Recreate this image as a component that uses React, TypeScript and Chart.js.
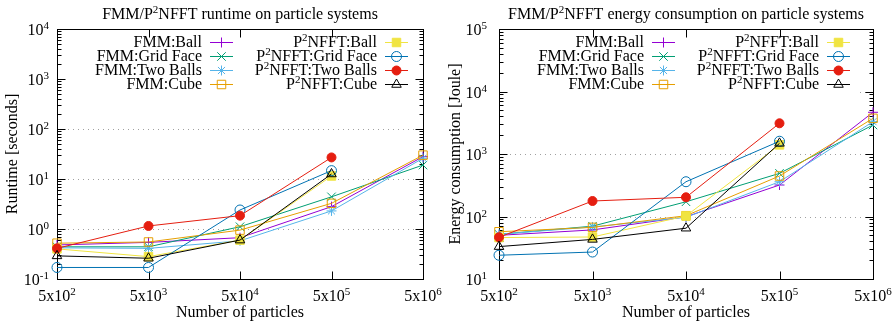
import React, { useEffect, useRef } from 'react';
import { Chart, registerables } from 'chart.js';

Chart.register(...registerables);

// ---------------- data ----------------
const particles = [500, 5000, 50000, 500000, 5000000];
const xTickLabels = ['5x10^{2}', '5x10^{3}', '5x10^{4}', '5x10^{5}', '5x10^{6}'];

const runtimeYTickValues = [0.1, 1, 10, 100, 1000, 10000];
const runtimeYTickLabels = ['10^{-1}', '10^{0}', '10^{1}', '10^{2}', '10^{3}', '10^{4}'];
const energyYTickValues = [10, 100, 1000, 10000, 100000];
const energyYTickLabels = ['10^{1}', '10^{2}', '10^{3}', '10^{4}', '10^{5}'];

const seriesNames = [
  'FMM:Ball',
  'FMM:Grid Face',
  'FMM:Two Balls',
  'FMM:Cube',
  'P^{2}NFFT:Ball',
  'P^{2}NFFT:Grid Face',
  'P^{2}NFFT:Two Balls',
  'P^{2}NFFT:Cube',
];

// runtime [seconds]
const runtimeFmmBall = [0.48, 0.54, 0.67, 2.8, 28];
const runtimeFmmGridFace = [0.44, 0.44, 1.11, 4.4, 19];
const runtimeFmmTwoBalls = [0.42, 0.41, 0.58, 2.3, 26];
const runtimeFmmCube = [0.52, 0.55, 0.95, 3.26, 30];
const runtimeP2nfftBall = [0.4, 0.28, 0.6, 11.5, null];
const runtimeP2nfftGridFace = [0.17, 0.17, 2.4, 14.7, null];
const runtimeP2nfftTwoBalls = [0.41, 1.15, 1.85, 27, null];
const runtimeP2nfftCube = [0.29, 0.26, 0.6, 12.6, null];

// energy consumption [Joule]
const energyFmmBall = [50, 61, 99, 319, 4650];
const energyFmmGridFace = [52, 70, 172, 490, 2910];
const energyFmmTwoBalls = [52, 68, 97, 360, 3290];
const energyFmmCube = [57, 67, 103, 445, 3720];
const energyP2nfftBall = [46, 47, 102, 1400, null];
const energyP2nfftGridFace = [24, 27, 360, 1600, null];
const energyP2nfftTwoBalls = [46.5, 177, 203, 3100, null];
const energyP2nfftCube = [33, 43, 65, 1480, null];

const runtimeSeries = [
  runtimeFmmBall, runtimeFmmGridFace, runtimeFmmTwoBalls, runtimeFmmCube,
  runtimeP2nfftBall, runtimeP2nfftGridFace, runtimeP2nfftTwoBalls, runtimeP2nfftCube,
];
const energySeries = [
  energyFmmBall, energyFmmGridFace, energyFmmTwoBalls, energyFmmCube,
  energyP2nfftBall, energyP2nfftGridFace, energyP2nfftTwoBalls, energyP2nfftCube,
];

// ---------------- styles ----------------
const seriesColors = ['#9400D3', '#009E73', '#56B4E9', '#E69F00', '#F0E442', '#0072B2', '#E51E10', '#000000'];
const seriesMarkers = ['cross', 'crossRot', 'star', 'rect', 'rect', 'circle', 'circle', 'triangle'];
const seriesFilled = [false, false, false, false, true, false, true, false];
const seriesRadius = [5, 6, 5, 6, 6, 5, 4.5, 5.5];

const FONT_FAMILY = '"Liberation Serif", "Times New Roman", Times, serif';
const BASE_SIZE = 16;
const SUP_SIZE = 11;
const SUP_RISE = 6;

type Part = { t: string; sup: boolean };
function parseRich(s: string): Part[] {
  const parts: Part[] = [];
  const re = /\^\{([^}]*)\}/g;
  let last = 0;
  let m: RegExpExecArray | null;
  while ((m = re.exec(s))) {
    if (m.index > last) parts.push({ t: s.slice(last, m.index), sup: false });
    parts.push({ t: m[1], sup: true });
    last = re.lastIndex;
  }
  if (last < s.length) parts.push({ t: s.slice(last), sup: false });
  return parts;
}
function setFont(ctx: CanvasRenderingContext2D, sup: boolean) {
  ctx.font = `${sup ? SUP_SIZE : BASE_SIZE}px ${FONT_FAMILY}`;
}
function richWidth(ctx: CanvasRenderingContext2D, s: string) {
  let w = 0;
  for (const p of parseRich(s)) {
    setFont(ctx, p.sup);
    w += ctx.measureText(p.t).width;
  }
  return w;
}
function drawRich(ctx: CanvasRenderingContext2D, s: string, x: number, y: number, align: 'left' | 'center' | 'right') {
  const w = richWidth(ctx, s);
  let cx = align === 'left' ? x : align === 'right' ? x - w : x - w / 2;
  ctx.textAlign = 'left';
  ctx.textBaseline = 'alphabetic';
  ctx.fillStyle = '#000';
  for (const p of parseRich(s)) {
    setFont(ctx, p.sup);
    ctx.fillText(p.t, cx, p.sup ? y - SUP_RISE : y);
    cx += ctx.measureText(p.t).width;
  }
}

function drawMarker(ctx: CanvasRenderingContext2D, style: string, x: number, y: number, r: number, color: string, filled: boolean) {
  ctx.save();
  ctx.strokeStyle = color;
  ctx.fillStyle = color;
  ctx.lineWidth = 1;
  ctx.beginPath();
  if (style === 'cross' || style === 'star') {
    ctx.moveTo(x - r, y); ctx.lineTo(x + r, y);
    ctx.moveTo(x, y - r); ctx.lineTo(x, y + r);
  }
  if (style === 'crossRot' || style === 'star') {
    const d = style === 'star' ? r * Math.SQRT1_2 : r * Math.SQRT1_2;
    ctx.moveTo(x - d, y - d); ctx.lineTo(x + d, y + d);
    ctx.moveTo(x - d, y + d); ctx.lineTo(x + d, y - d);
  }
  if (style === 'rect') {
    const s = r * Math.SQRT1_2;
    ctx.rect(x - s, y - s, 2 * s, 2 * s);
  }
  if (style === 'circle') {
    ctx.arc(x, y, r, 0, Math.PI * 2);
  }
  if (style === 'triangle') {
    let a = 0;
    ctx.moveTo(x + Math.sin(a) * r, y - Math.cos(a) * r);
    a += (2 * Math.PI) / 3;
    ctx.lineTo(x + Math.sin(a) * r, y - Math.cos(a) * r);
    a += (2 * Math.PI) / 3;
    ctx.lineTo(x + Math.sin(a) * r, y - Math.cos(a) * r);
    ctx.closePath();
  }
  if (filled) ctx.fill();
  ctx.stroke();
  ctx.restore();
}

type Spec = {
  title: string;
  yTitle: string;
  yTitleX: number;
  yTickValues: number[];
  yTickLabels: string[];
  yLabelGap: number;
};

function axesPlugin(spec: Spec) {
  return {
    id: 'gnuplotAxes',
    beforeDatasetsDraw(chart: any) {
      const { ctx, chartArea: a, scales } = chart;
      const ys = scales.y;
      const xs = scales.x;
      ctx.save();
      // dotted grid at decades
      ctx.strokeStyle = '#a0a0a0';
      ctx.lineWidth = 1;
      ctx.setLineDash([1, 4]);
      for (const v of spec.yTickValues) {
        const y = Math.round(ys.getPixelForValue(v)) + 0.5;
        if (y <= a.top + 2 || y >= a.bottom - 2) continue;
        ctx.beginPath();
        ctx.moveTo(a.left + 1, y);
        ctx.lineTo(a.right, y);
        ctx.stroke();
      }
      ctx.setLineDash([]);
      // opaque key box
      ctx.fillStyle = '#fff';
      ctx.fillRect(a.left + 1, a.top + 1, 358, 66);
      // frame
      ctx.strokeStyle = '#000';
      ctx.lineWidth = 1;
      const L = Math.round(a.left) + 0.5;
      const R = Math.round(a.right) + 0.5;
      const T = Math.round(a.top) + 0.5;
      const B = Math.round(a.bottom) + 0.5;
      ctx.strokeRect(L, T, R - L, B - T);
      // y ticks (major + minor), mirrored
      ctx.beginPath();
      const first = Math.log10(spec.yTickValues[0]);
      const last = Math.log10(spec.yTickValues[spec.yTickValues.length - 1]);
      for (let e = Math.round(first); e <= Math.round(last); e++) {
        for (let k = 1; k <= 9; k++) {
          const v = k * Math.pow(10, e);
          if (e === Math.round(last) && k > 1) break;
          const y = Math.round(ys.getPixelForValue(v)) + 0.5;
          const len = k === 1 ? 8 : 4;
          ctx.moveTo(L, y); ctx.lineTo(L + len, y);
          ctx.moveTo(R, y); ctx.lineTo(R - len, y);
        }
      }
      // x ticks, mirrored
      for (const v of particles) {
        const x = Math.round(xs.getPixelForValue(v)) + 0.5;
        ctx.moveTo(x, B); ctx.lineTo(x, B - 8);
        ctx.moveTo(x, T); ctx.lineTo(x, T + 8);
      }
      ctx.stroke();
      ctx.restore();
    },
    afterDatasetsDraw(chart: any) {
      const { ctx, chartArea: a, scales } = chart;
      const ys = scales.y;
      const xs = scales.x;
      ctx.save();
      // title
      drawRich(ctx, spec.title, (a.left + a.right) / 2, 19, 'center');
      // y tick labels
      spec.yTickValues.forEach((v, i) => {
        const y = ys.getPixelForValue(v);
        drawRich(ctx, spec.yTickLabels[i], a.left - spec.yLabelGap, y + 6, 'right');
      });
      // x tick labels
      particles.forEach((v, i) => {
        const x = xs.getPixelForValue(v);
        drawRich(ctx, xTickLabels[i], x, 301, 'center');
      });
      // x title
      drawRich(ctx, 'Number of particles', (a.left + a.right) / 2, 317, 'center');
      // y title
      ctx.save();
      ctx.translate(spec.yTitleX, (a.top + a.bottom) / 2);
      ctx.rotate(-Math.PI / 2);
      drawRich(ctx, spec.yTitle, 0, 0, 'center');
      ctx.restore();
      // legend
      const rowBase = [17.7, 31.9, 46.1, 60.3];
      seriesNames.forEach((name, i) => {
        const col = i < 4 ? 0 : 1;
        const row = i % 4;
        const textRight = a.left + (col === 0 ? 145 : 320);
        const s0 = a.left + (col === 0 ? 153 : 328);
        const s1 = s0 + 23;
        const base = a.top + rowBase[row];
        drawRich(ctx, name, textRight, base, 'right');
        const ly = Math.round(base - 5) + 0.5;
        ctx.strokeStyle = seriesColors[i];
        ctx.lineWidth = 1;
        ctx.beginPath();
        ctx.moveTo(s0, ly);
        ctx.lineTo(s1, ly);
        ctx.stroke();
        drawMarker(ctx, seriesMarkers[i], (s0 + s1) / 2, ly, seriesRadius[i], seriesColors[i], seriesFilled[i]);
      });
      ctx.restore();
    },
  };
}

function buildChart(
  canvas: HTMLCanvasElement,
  series: (number | null)[][],
  yMin: number,
  yMax: number,
  padding: { left: number; right: number; top: number; bottom: number },
  spec: Spec,
) {
  const datasets = series.map((vals, i) => ({
    label: seriesNames[i],
    data: particles
      .map((x, j) => ({ x, y: vals[j] }))
      .filter((p) => p.y !== null && p.y !== undefined),
    borderColor: seriesColors[i],
    backgroundColor: seriesColors[i],
    borderWidth: 1,
    pointStyle: seriesMarkers[i],
    pointRadius: seriesRadius[i],
    pointBorderWidth: 1,
    pointBorderColor: seriesColors[i],
    pointBackgroundColor: seriesFilled[i] ? seriesColors[i] : 'rgba(0,0,0,0)',
    tension: 0,
    fill: false,
    clip: false as any,
    order: 8 - i,
  }));
  return new Chart(canvas, {
    type: 'line',
    data: { datasets: datasets as any },
    options: {
      responsive: false,
      animation: false,
      devicePixelRatio: 1,
      events: [],
      layout: { padding },
      plugins: {
        legend: { display: false },
        tooltip: { enabled: false },
        title: { display: false },
      },
      scales: {
        x: { type: 'logarithmic', min: 500, max: 5000000, display: false },
        y: { type: 'logarithmic', min: yMin, max: yMax, display: false },
      },
    },
    plugins: [axesPlugin(spec)],
  });
}

export default function App() {
  const leftRef = useRef<HTMLCanvasElement>(null);
  const rightRef = useRef<HTMLCanvasElement>(null);

  useEffect(() => {
    const left = buildChart(
      leftRef.current!,
      runtimeSeries,
      0.1,
      10000,
      { left: 57, right: 24, top: 29, bottom: 54 },
      {
        title: 'FMM/P^{2}NFFT runtime on particle systems',
        yTitle: 'Runtime [seconds]',
        yTitleX: 17,
        yTickValues: runtimeYTickValues,
        yTickLabels: runtimeYTickLabels,
        yLabelGap: 8,
      },
    );
    const right = buildChart(
      rightRef.current!,
      energySeries,
      10,
      100000,
      { left: 52, right: 21, top: 29, bottom: 54 },
      {
        title: 'FMM/P^{2}NFFT energy consumption on particle systems',
        yTitle: 'Energy consumption [Joule]',
        yTitleX: 13,
        yTickValues: energyYTickValues,
        yTickLabels: energyYTickLabels,
        yLabelGap: 12,
      },
    );
    return () => {
      left.destroy();
      right.destroy();
    };
  }, []);

  return (
    <div style={{ position: 'absolute', left: 0, top: 0, width: 894, height: 333, background: '#fff' }}>
      <canvas ref={leftRef} width={447} height={333} style={{ position: 'absolute', left: 0, top: 0, width: 447, height: 333 }} />
      <canvas ref={rightRef} width={447} height={333} style={{ position: 'absolute', left: 447, top: 0, width: 447, height: 333 }} />
    </div>
  );
}
